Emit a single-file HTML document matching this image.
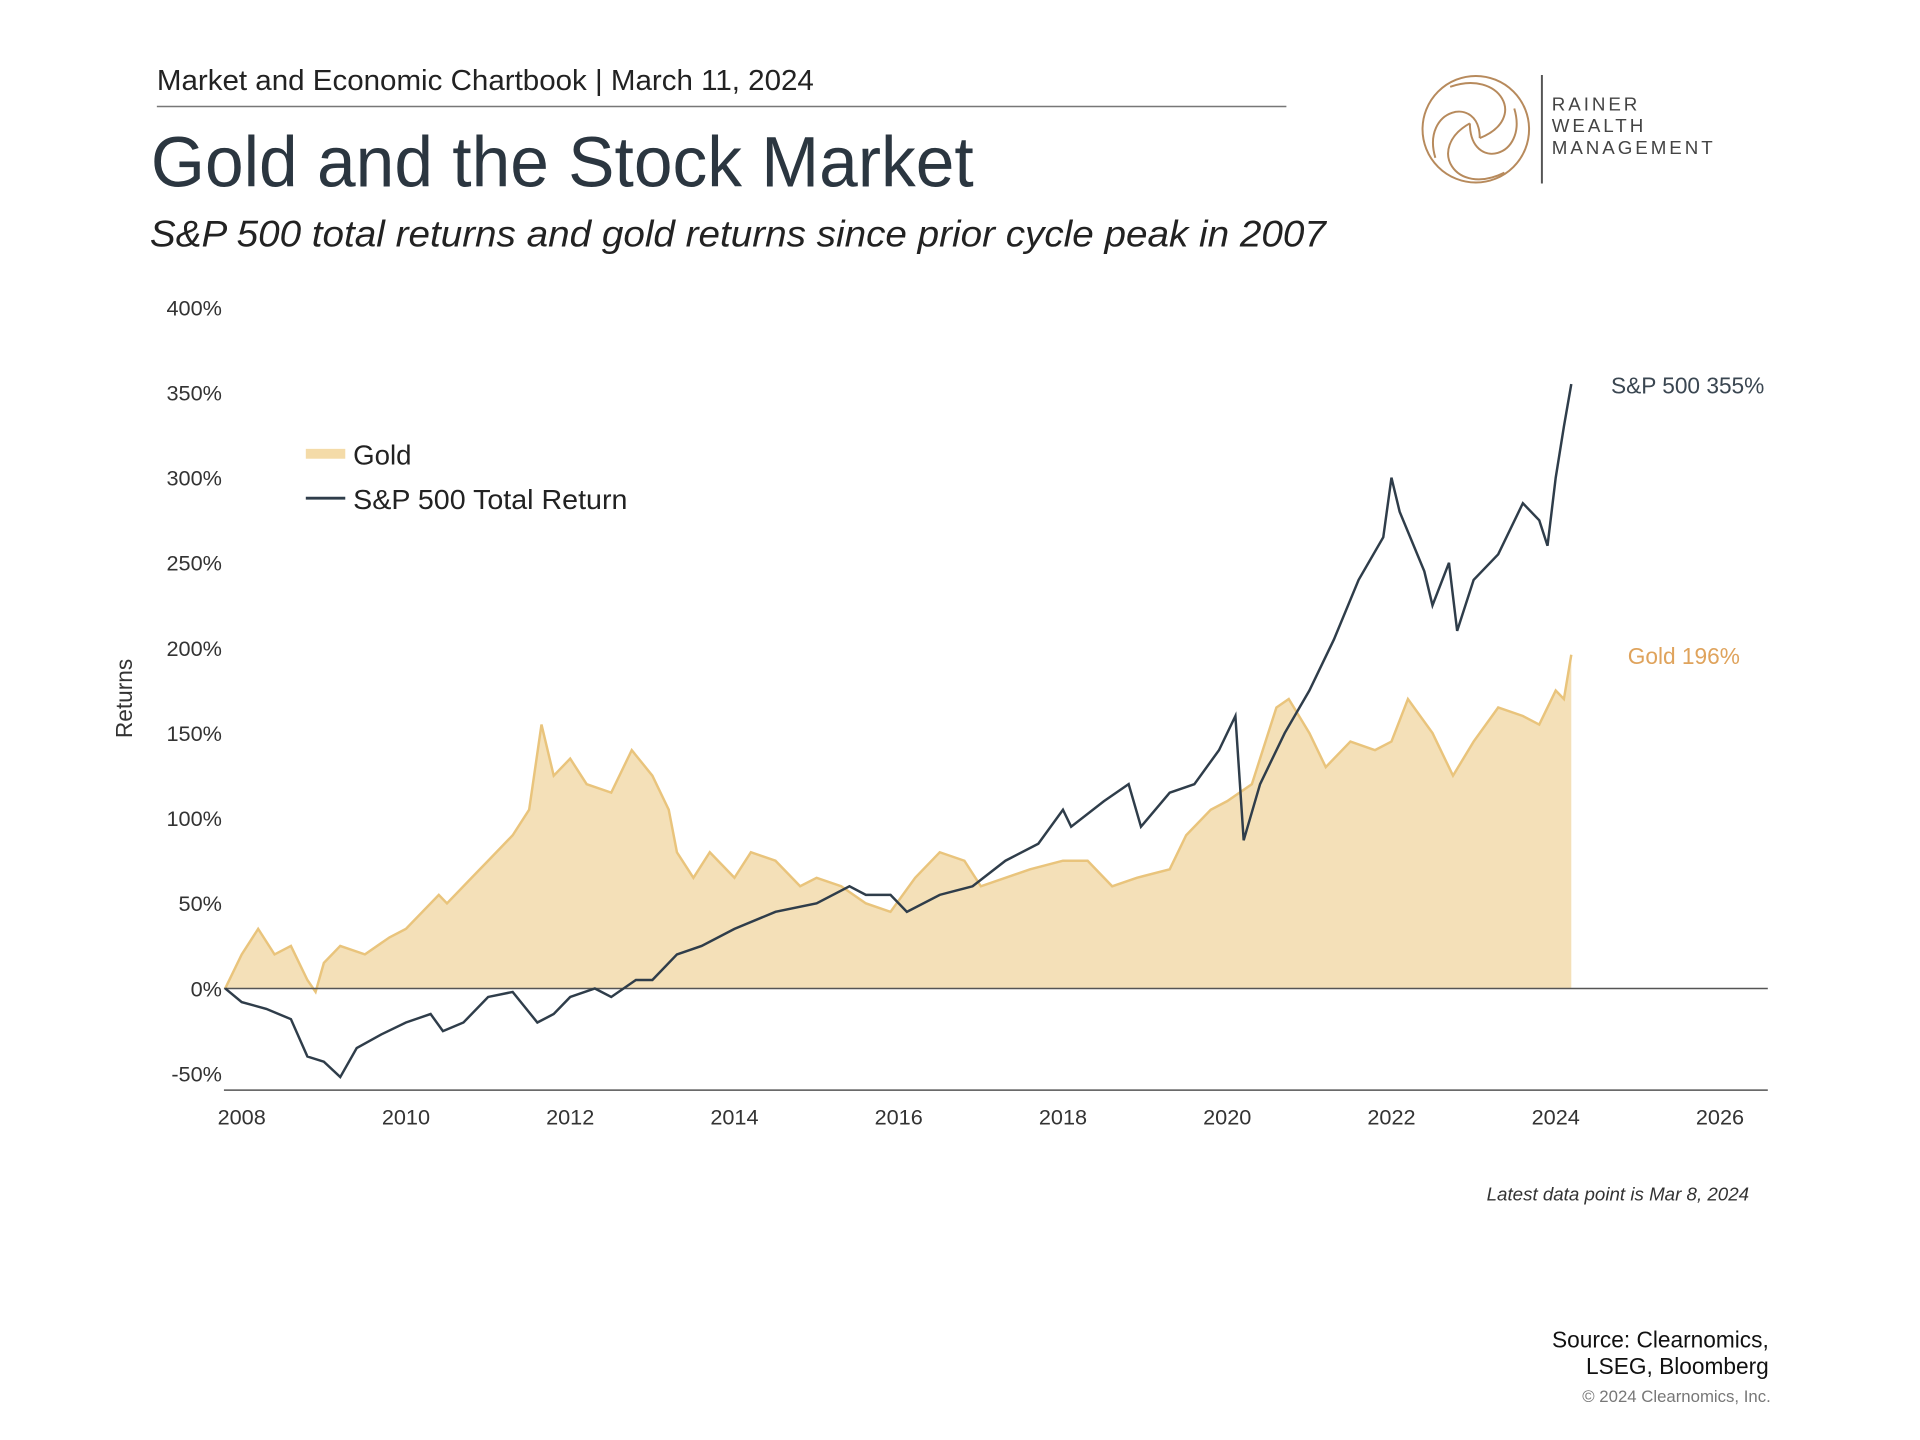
<!DOCTYPE html>
<html><head><meta charset="utf-8"><style>
html,body{margin:0;padding:0;background:#fff}
svg{display:block}
text{font-family:"Liberation Sans",sans-serif}
</style></head><body>
<svg id="chart" width="1920" height="1440" viewBox="0 0 1920 1440" xmlns="http://www.w3.org/2000/svg">
<g transform="scale(0.9865)">
<text x="159" y="91" font-size="29" fill="#222" textLength="666" lengthAdjust="spacingAndGlyphs">Market and Economic Chartbook | March 11, 2024</text>
<line x1="159" y1="108" x2="1304" y2="108" stroke="#777" stroke-width="1.5"/>
<text x="153" y="189" font-size="72" fill="#2b3640" textLength="834" lengthAdjust="spacingAndGlyphs">Gold and the Stock Market</text>
<text x="152" y="250" font-size="38" font-style="italic" fill="#222" textLength="1192" lengthAdjust="spacingAndGlyphs">S&amp;P 500 total returns and gold returns since prior cycle peak in 2007</text>
<g fill="none" stroke="#b78a5c" stroke-width="2">
<circle cx="1496" cy="131" r="54"/>
<path d="M1470,88 C1520,70 1550,120 1500,140"/>
<path d="M1455,160 C1440,110 1500,95 1500,140"/>
<path d="M1525,175 C1475,200 1445,150 1490,125"/>
<path d="M1535,110 C1550,160 1490,175 1490,125"/>
<line x1="1563" y1="76" x2="1563" y2="186" stroke="#555" stroke-width="2"/>
</g>
<g font-family="Liberation Serif,serif" font-size="19" fill="#444" letter-spacing="3">
<text x="1573" y="112">RAINER</text><text x="1573" y="134">WEALTH</text><text x="1573" y="156">MANAGEMENT</text>
</g>
<g id="yticks"></g>
<g id="xticks"></g>
<text transform="translate(134,708) rotate(-90)" text-anchor="middle" font-size="23" fill="#333">Returns</text>
<path id="goldArea" fill="#f4e0b8" stroke="none"/>
<path id="goldLine" fill="none" stroke="#e9c47c" stroke-width="2.5"/>
<line x1="227" y1="1002" x2="1792" y2="1002" stroke="#555" stroke-width="1.5"/>
<line x1="227" y1="1105" x2="1792" y2="1105" stroke="#555" stroke-width="1.5"/>
<path id="spLine" fill="none" stroke="#2f3d4a" stroke-width="2.5"/>
<g>
<g><rect x="310" y="455" width="40" height="10" fill="#f4dba8"/><text x="358" y="471" font-size="28" fill="#222">Gold</text></g>
<g><line x1="310" y1="505" x2="350" y2="505" stroke="#2f3d4a" stroke-width="3"/><text x="358" y="516" font-size="28" fill="#222" textLength="278" lengthAdjust="spacingAndGlyphs">S&amp;P 500 Total Return</text></g>
</g>
<text x="1633" y="399" font-size="23" fill="#3a4651">S&amp;P 500 355%</text>
<text x="1650" y="673" font-size="23" fill="#dfa35c">Gold 196%</text>
<text x="1773" y="1217" text-anchor="end" font-size="19" font-style="italic" fill="#333">Latest data point is Mar 8, 2024</text>
<text x="1793" y="1366" text-anchor="end" font-size="23" fill="#111">Source: Clearnomics,</text>
<text x="1793" y="1393" text-anchor="end" font-size="23" fill="#111">LSEG, Bloomberg</text>
<text x="1795" y="1421" text-anchor="end" font-size="17" fill="#777">© 2024 Clearnomics, Inc.</text>
</g>
</svg>
<script>
const yTickValues=[-50,0,50,100,150,200,250,300,350,400];
const xTickYears=[2008,2010,2012,2014,2016,2018,2020,2022,2024,2026];
const goldT=[2007.8,2008.0,2008.2,2008.4,2008.6,2008.8,2008.9,2009.0,2009.2,2009.5,2009.8,2010.0,2010.4,2010.5,2010.8,2011.0,2011.3,2011.5,2011.65,2011.8,2012.0,2012.2,2012.5,2012.75,2013.0,2013.2,2013.3,2013.5,2013.7,2014.0,2014.2,2014.5,2014.8,2015.0,2015.3,2015.6,2015.9,2016.2,2016.5,2016.8,2017.0,2017.3,2017.6,2018.0,2018.3,2018.6,2018.9,2019.3,2019.5,2019.8,2020.0,2020.3,2020.6,2020.75,2021.0,2021.2,2021.5,2021.8,2022.0,2022.2,2022.5,2022.75,2023.0,2023.3,2023.6,2023.8,2024.0,2024.1,2024.19];
const goldV=[0,20,35,20,25,5,-2,15,25,20,30,35,55,50,65,75,90,105,155,125,135,120,115,140,125,105,80,65,80,65,80,75,60,65,60,50,45,65,80,75,60,65,70,75,75,60,65,70,90,105,110,120,165,170,150,130,145,140,145,170,150,125,145,165,160,155,175,170,196];
const spT=[2007.8,2008.0,2008.3,2008.6,2008.8,2009.0,2009.2,2009.4,2009.7,2010.0,2010.3,2010.45,2010.7,2011.0,2011.3,2011.6,2011.8,2012.0,2012.3,2012.5,2012.8,2013.0,2013.3,2013.6,2014.0,2014.5,2015.0,2015.4,2015.6,2015.9,2016.1,2016.5,2016.9,2017.3,2017.7,2018.0,2018.1,2018.5,2018.8,2018.95,2019.3,2019.6,2019.9,2020.1,2020.2,2020.4,2020.7,2021.0,2021.3,2021.6,2021.9,2022.0,2022.1,2022.4,2022.5,2022.7,2022.8,2023.0,2023.3,2023.6,2023.8,2023.9,2024.0,2024.1,2024.19];
const spV=[0,-8,-12,-18,-40,-43,-52,-35,-27,-20,-15,-25,-20,-5,-2,-20,-15,-5,0,-5,5,5,20,25,35,45,50,60,55,55,45,55,60,75,85,105,95,110,120,95,115,120,140,160,87,120,150,175,205,240,265,300,280,245,225,250,210,240,255,285,275,260,300,330,355];
const X=t=>245+(t-2008)*83.25;
const Y=v=>1002-v*1.726;
const NS='http://www.w3.org/2000/svg';
const yg=document.getElementById('yticks');
yTickValues.forEach(v=>{const t=document.createElementNS(NS,'text');


t.setAttribute('x',225);t.setAttribute('y',Y(v)+8);t.setAttribute('text-anchor','end');t.setAttribute('font-size','22');t.setAttribute('fill','#333');t.textContent=v+'%';yg.appendChild(t);});
const xg=document.getElementById('xticks');
xTickYears.forEach(v=>{const t=document.createElementNS(NS,'text');


t.setAttribute('x',X(v));t.setAttribute('y',1140);t.setAttribute('text-anchor','middle');t.setAttribute('font-size','22');t.setAttribute('fill','#333');t.textContent=v;xg.appendChild(t);});
const line=(T,V)=>T.map((t,i)=>(i?'L':'M')+X(t).toFixed(1)+','+Y(V[i]).toFixed(1)).join('');
const gl=line(goldT,goldV);
document.getElementById('goldLine').setAttribute('d',gl);
document.getElementById('goldArea').setAttribute('d',gl+'L'+X(goldT[goldT.length-1])+','+Y(0)+'L'+X(goldT[0])+','+Y(0)+'Z');
document.getElementById('spLine').setAttribute('d',line(spT,spV));
</script>
</body></html>
